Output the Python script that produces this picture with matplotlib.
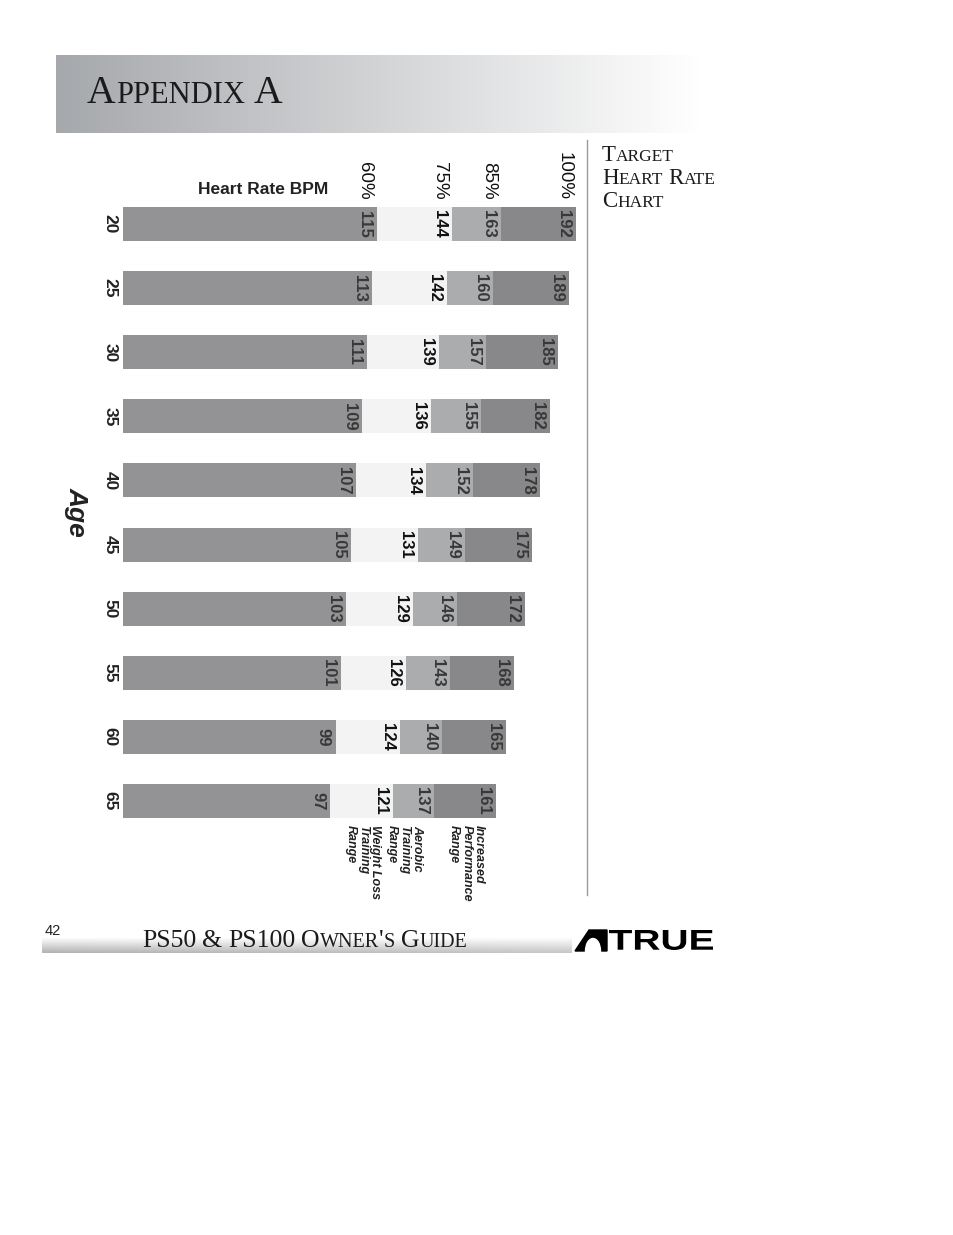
import numpy as np
import matplotlib
matplotlib.use('Agg')
import matplotlib.pyplot as plt
from matplotlib.textpath import TextPath
from matplotlib.patches import PathPatch, Polygon, Ellipse
from matplotlib.font_manager import FontProperties
from matplotlib.transforms import Affine2D

# datos de la tabla
ages = [20, 25, 30, 35, 40, 45, 50, 55, 60, 65]
bpm60 = [115, 113, 111, 109, 107, 105, 103, 101, 99, 97]
bpm75 = [144, 142, 139, 136, 134, 131, 129, 126, 124, 121]
bpm85 = [163, 160, 157, 155, 152, 149, 146, 143, 140, 137]
bpm100 = [192, 189, 185, 182, 178, 175, 172, 168, 165, 161]
pct_labels = ['60%', '75%', '85%', '100%']
zone_labels = ['Weight Loss\nTraining\nRange', 'Aerobic\nTraining\nRange',
               'Increased\nPerformance\nRange']

colors = ['#939395', '#f3f3f3', '#aaacae', '#88888a']
W, H = 954, 1235
SERIF = ['Liberation Serif', 'DejaVu Serif']
NARROW = ['Liberation Sans Narrow', 'Liberation Sans', 'DejaVu Sans']
SANS = ['Liberation Sans', 'DejaVu Sans']

fig = plt.figure(figsize=(W / 100, H / 100), dpi=100)
fig.patch.set_facecolor('white')

# ejes de pagina en pixeles
page = fig.add_axes([0, 0, 1, 1])
page.axis('off')

# banda del titulo
g = np.linspace(0, 1, 256)
c0 = np.array([0.65, 0.66, 0.675])
grad = c0[None, :] + (1 - c0)[None, :] * g[:, None]
page.imshow(grad[None, :, :], extent=(56, 700, 133, 55), aspect='auto', zorder=0)

# banda del pie
tv = np.linspace(0, 1, 40)[:, None]
th = np.linspace(0, 1, 256)[None, :]
val = 1 - np.clip((tv - 0.45) / 0.55, 0, 1) * (0.30 - 0.08 * th)
foot = np.dstack([val, val, val])
page.imshow(foot, extent=(42, 572, 953, 925), aspect='auto', zorder=0)
page.set_xlim(0, W)
page.set_ylim(H, 0)

renderer = fig.canvas.get_renderer()


def smallcaps(x, y, s, big, small, color='#1b1b1b'):
    for word in s.split(' '):
        runs = []
        for ch in word:
            sz = small if ch.islower() else big
            if runs and runs[-1][1] == sz:
                runs[-1][0] += ch.upper()
            else:
                runs.append([ch.upper(), sz])
        for txt, sz in runs:
            t = page.text(x, y, txt, fontsize=sz, family=SERIF, color=color,
                          ha='left', va='baseline')
            x += t.get_window_extent(renderer).width
        x += big * 0.32


smallcaps(87, 103, 'Appendix A', 28.5, 22)
smallcaps(602, 161, 'Target', 16.5, 12.5)
smallcaps(602, 184, 'Heart Rate', 16.5, 12.5)
smallcaps(602, 207, 'Chart', 16.5, 12.5)
smallcaps(142, 947, "PS50 & PS100 Owner's Guide", 18.5, 14.5)
page.text(45, 931, '42', fontsize=10.5, family=SANS, color='#222222', ha='left', va='center')

# linea vertical
page.plot([587, 587], [140, 895], color='#9a9a9a', lw=1)

# logo TRUE
page.add_patch(Polygon([(575, 951), (589, 930), (607, 930), (607, 951)],
                       closed=True, color='black', zorder=3))
page.add_patch(Ellipse((593, 951), 15, 25, color='white', zorder=4))
tp = TextPath((0, 0), 'TRUE', size=1, prop=FontProperties(family=SANS, weight='bold'))
ext = tp.get_extents()
sx = 104 / ext.width
sy = 20 / ext.height
tr = Affine2D().translate(-ext.x0, -ext.y0).scale(sx, -sy).translate(609, 950) + page.transData
page.add_patch(PathPatch(tp, transform=tr, color='black', lw=0, zorder=3))

page.text(263, 190, 'Heart Rate BPM', fontsize=12.5, weight='bold', family=SANS,
          color='#222222', ha='center', va='center')
page.text(77, 512, 'Age', fontsize=19, weight='bold', style='italic', family=SANS,
          color='#222222', ha='center', va='center', rotation=270)

# grafica de barras
ax = fig.add_axes([123 / W, (H - 833) / H, (590 - 123) / W, (833 - 192) / H])
ax.patch.set_alpha(0)
y = np.arange(len(ages))
edges = [np.zeros(len(ages)), bpm60, bpm75, bpm85, bpm100]
for k in range(4):
    left = np.array(edges[k])
    right = np.array(edges[k + 1])
    ax.barh(y, right - left, left=left, height=0.53, color=colors[k], lw=0)
    for i in range(len(ages)):
        ax.annotate(str(right[i]), xy=(right[i], y[i]), xytext=(-9, 0),
                    textcoords='offset points', rotation=270, ha='center', va='center',
                    fontsize=12, weight='bold', family=NARROW,
                    color='#111111' if k == 1 else '#383838')
    ax.annotate(pct_labels[k], xy=(right[0], -0.265), xytext=(-9, 5),
                textcoords='offset points', rotation=270, ha='center', va='bottom',
                fontsize=13.5, family=NARROW, color='#111111')
    if k > 0:
        ax.annotate(zone_labels[k - 1], xy=(right[-1], 9.265), xytext=(-8, -5),
                    textcoords='offset points', rotation=270, ha='right', va='top',
                    multialignment='left', fontsize=9, weight='bold', style='italic',
                    family=SANS, color='#222222', linespacing=1.05)

ax.set_xlim(16.8, 197.3)
ax.set_ylim(9.5, -0.5)
ax.set_xticks([])
ax.set_yticks(y, [str(a) for a in ages])
ax.tick_params(axis='y', length=0, pad=4)
for lab in ax.get_yticklabels():
    lab.set_rotation(270)
    lab.set_fontsize(12.5)
    lab.set_fontweight('bold')
    lab.set_family(SANS)
    lab.set_color('#222222')
    lab.set_va('center')
for s in ax.spines.values():
    s.set_visible(False)

fig.savefig('out.png', dpi=100)
